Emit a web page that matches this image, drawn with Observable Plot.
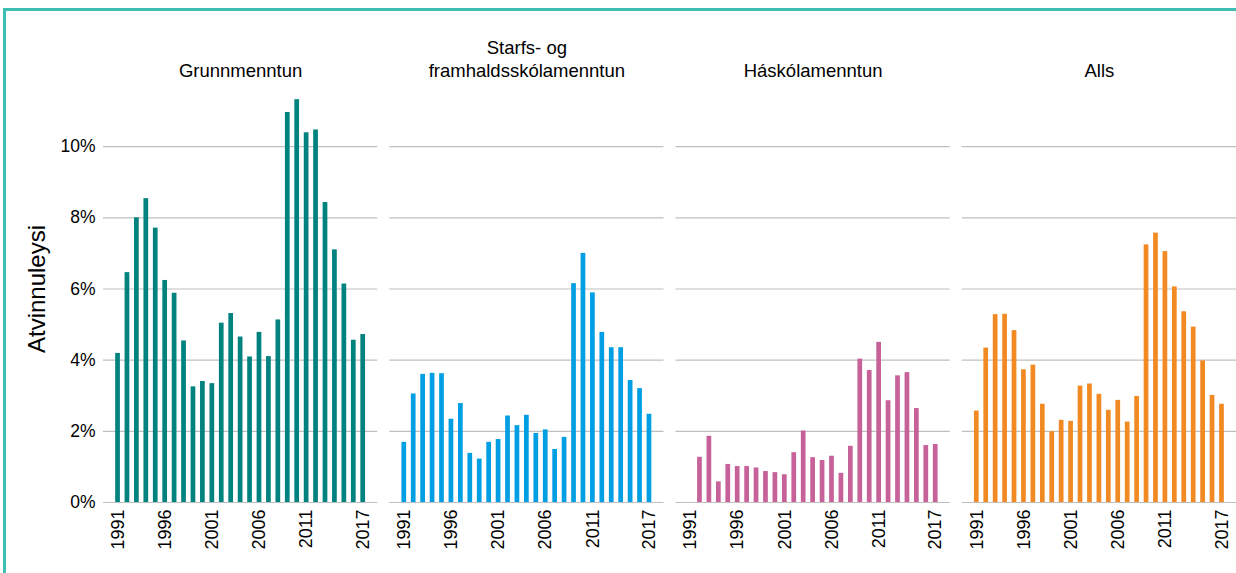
<!DOCTYPE html>
<html><head><meta charset="utf-8">
<script src="https://cdn.jsdelivr.net/npm/d3@7"></script>
<script src="https://cdn.jsdelivr.net/npm/@observablehq/plot@0.6"></script>
<style>
body{margin:0;background:#fff;font-family:"Liberation Sans",Arial,sans-serif;}
#wrap{position:relative;width:1236px;height:573px;overflow:hidden;background:#fff;}
#frame{position:absolute;left:3px;top:8px;width:1300px;height:700px;border-top:3px solid #3dbfb6;border-left:3px solid #3dbfb6;}
#chart{position:absolute;left:0;top:0;}
</style></head><body>
<div id="wrap"><div id="frame"></div><div id="chart"></div></div>
<script>
const years = [1991,1992,1993,1994,1995,1996,1997,1998,1999,2000,2001,2002,2003,2004,2005,2006,2007,2008,2009,2010,2011,2012,2013,2014,2015,2016,2017];
const categories = ["Grunnmenntun","Starfs- og framhaldsskólamenntun","Háskólamenntun","Alls"];
const grunnmenntun = [4.19,6.46,8.00,8.54,7.71,6.24,5.88,4.54,3.25,3.40,3.34,5.04,5.31,4.65,4.09,4.78,4.10,5.13,10.96,11.32,10.39,10.47,8.43,7.10,6.14,4.56,4.72];
const starfsmenntun = [1.69,3.05,3.60,3.63,3.62,2.34,2.78,1.38,1.22,1.69,1.77,2.43,2.16,2.45,1.94,2.04,1.49,1.83,6.15,7.00,5.89,4.78,4.35,4.35,3.43,3.20,2.48];
const haskolamenntun = [null,1.27,1.86,0.58,1.07,1.01,1.01,0.97,0.87,0.84,0.78,1.40,2.01,1.26,1.18,1.30,0.82,1.58,4.03,3.71,4.50,2.86,3.56,3.65,2.64,1.60,1.63];
const alls = [2.57,4.34,5.28,5.29,4.83,3.73,3.86,2.76,1.99,2.31,2.28,3.27,3.33,3.04,2.59,2.87,2.26,2.98,7.24,7.57,7.05,6.06,5.36,4.93,3.98,3.01,2.76];
const colors = ["#00827e","#009fe3","#c7619a","#f28a24"];
const yTicks = [0,2,4,6,8,10];
const xTicks = [1991,1996,2001,2006,2011,2017];
const yLabel = "Atvinnuleysi";

const seriesList = [grunnmenntun, starfsmenntun, haskolamenntun, alls];
const data = [];
seriesList.forEach((vals, i) => {
  vals.forEach((v, j) => { if (v != null) data.push({cat: categories[i], year: years[j], value: v}); });
});

const font = "'Liberation Sans', Arial, sans-serif";
const chart = Plot.plot({
  width: 1236, height: 573,
  marginTop: 75, marginBottom: 71, marginLeft: 103, marginRight: 0,
  style: {fontFamily: font, fontSize: "17px", color: "#000", background: "transparent"},
  fx: {domain: categories, paddingInner: 0.042, paddingOuter: 0, round: false, label: null},
  x: {domain: years, paddingInner: 0.5, paddingOuter: 1.29, round: false, label: null},
  y: {domain: [0, 12], label: null},
  color: {domain: categories, range: colors},
  marks: [
    Plot.gridY({ticks: yTicks, stroke: "#bfbfbf", strokeOpacity: 1, strokeWidth: 1.2}),
    Plot.barY(data, {fx: "cat", x: "year", y: "value", fill: "cat"}),
    Plot.axisY({ticks: yTicks, tickFormat: d => d + "%", tickSize: 0, tickPadding: 8, label: null, fontSize: 17.5}),
    Plot.text([{fx: categories[0], t: yLabel}], {fx: "fx", text: "t", frameAnchor: "left", textAnchor: "middle", dx: -66, rotate: -90, fontSize: 24}),
    Plot.axisX({ticks: xTicks, tickFormat: d => String(d), tickRotate: -90, tickSize: 0, tickPadding: 7, label: null, fontSize: 18}),
    Plot.axisFx({anchor: "top", tickSize: 0, tickPadding: -1, label: null, fontSize: 18.5, lineHeight: 1.22,
      tickFormat: d => d === "Starfs- og framhaldsskólamenntun" ? "Starfs- og\nframhaldsskólamenntun" : d})
  ]
});
document.getElementById("chart").appendChild(chart);
</script>
</body></html>
